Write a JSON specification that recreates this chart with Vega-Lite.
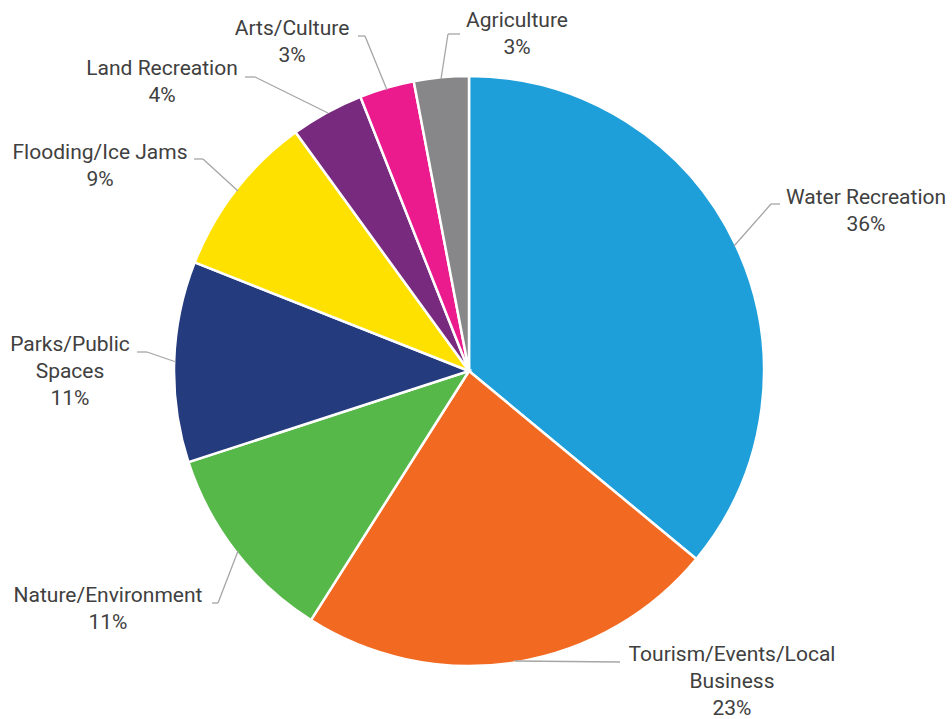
{
  "$schema": "https://vega.github.io/schema/vega-lite/v6.json",
  "width": 938,
  "height": 696,
  "autosize": {"type": "none"},
  "padding": {"left": 0, "top": 23, "right": 14, "bottom": 0},
  "background": "white",
  "config": {"view": {"stroke": null}},
  "data": {
    "values": [
      {"category": "Water Recreation", "value": 36},
      {"category": "Tourism/Events/Local\nBusiness", "value": 23},
      {"category": "Nature/Environment", "value": 11},
      {"category": "Parks/Public\nSpaces", "value": 11},
      {"category": "Flooding/Ice Jams", "value": 9},
      {"category": "Land Recreation", "value": 4},
      {"category": "Arts/Culture", "value": 3},
      {"category": "Agriculture", "value": 3}
    ]
  },
  "transform": [
    {"window": [{"op": "row_number", "as": "rank"}]},
    {"calculate": "datum.rank + 10", "as": "kB"},
    {"calculate": "datum.rank + 20", "as": "kH"},
    {"calculate": "datum.rank + 30", "as": "kL"},
    {"calculate": "datum.category + '\\n' + datum.value + '%'", "as": "label"}
  ],
  "layer": [
    {
      "mark": {"type": "arc", "outerRadius": 295, "stroke": "white", "strokeWidth": 2.5},
      "encoding": {
        "theta": {"field": "value", "type": "quantitative", "stack": true},
        "color": {
          "field": "category",
          "type": "nominal",
          "scale": {
            "domain": ["Water Recreation", "Tourism/Events/Local\nBusiness", "Nature/Environment", "Parks/Public\nSpaces", "Flooding/Ice Jams", "Land Recreation", "Arts/Culture", "Agriculture"],
            "range": ["#1f9fda", "#f26a22", "#57b84a", "#243b7d", "#ffe100", "#772a7e", "#eb1a8d", "#87878a"]
          },
          "legend": null
        },
        "order": {"field": "rank", "type": "quantitative"}
      }
    },
    {
      "mark": {"type": "rule", "color": "#a6a6a6", "strokeWidth": 1.3},
      "encoding": {
        "x": {"field": "rank", "type": "quantitative", "axis": null,
          "scale": {"zero": false, "nice": false,
            "domain": [1,2,3,4,5,6,7,8,11,12,13,14,15,16,17,18,21,22,23,24,25,26,27,28,31,32,33,34,35,36,37,38],
            "range": [734,515,238,176,238,328,387,441,771,515,218,147,203,255,365,448,780,620,212,137,194,245,358,460,866,732,108,70,100,162,292,517]}},
        "y": {"field": "rank", "type": "quantitative", "axis": null,
          "scale": {"zero": false, "nice": false,
            "domain": [1,2,3,4,5,6,7,8,11,12,13,14,15,16,17,18,21,22,23,24,25,26,27,28,31,32,33,34,35,36,37,38],
            "range": [223,637,528,339,168,90,67,56,181,638,580,329,136,54,13,11,181,639,580,329,136,54,13,11,175,632,573,322,130,46,6,-2]}},
        "x2": {"field": "kB"},
        "y2": {"field": "kB"}
      }
    },
    {
      "mark": {"type": "rule", "color": "#a6a6a6", "strokeWidth": 1.3},
      "encoding": {
        "x": {"field": "kB", "type": "quantitative", "axis": null},
        "y": {"field": "kB", "type": "quantitative", "axis": null},
        "x2": {"field": "kH"},
        "y2": {"field": "kH"}
      }
    },
    {
      "mark": {"type": "text", "font": "Roboto", "fontSize": 21, "lineHeight": 27, "lineBreak": "\n", "color": "#404040", "align": "center", "baseline": "middle"},
      "encoding": {
        "x": {"field": "kL", "type": "quantitative", "axis": null},
        "y": {"field": "kL", "type": "quantitative", "axis": null},
        "text": {"field": "label"}
      }
    }
  ]
}
